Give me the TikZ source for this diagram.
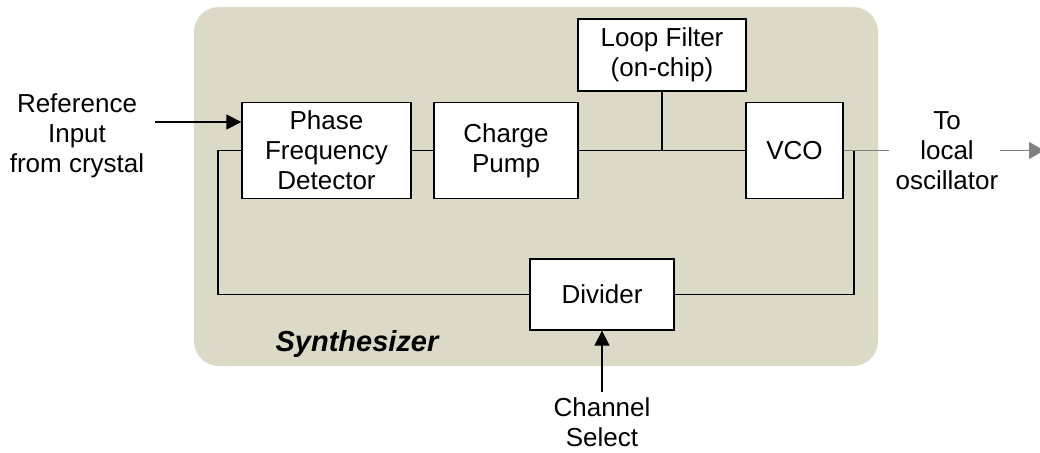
\documentclass[tikz,border=0pt]{standalone}
\usepackage{fontspec}
\setmainfont{Liberation Sans}
\usetikzlibrary{arrows.meta}
\definecolor{synthbg}{RGB}{220,218,199}
\definecolor{outgray}{RGB}{128,128,128}
\begin{document}
\begin{tikzpicture}[x=1pt, y=-1pt, line width=1.3pt,
  blk/.style={draw, fill=white, align=center, inner sep=0pt, font=\fontsize{26}{30}\selectfont},
  lbl/.style={align=center, inner sep=5pt, font=\fontsize{26}{30}\selectfont},
  arr/.style={-{Triangle[length=15pt,width=15pt]}}]
\useasboundingbox (0,0) rectangle (1040,452);
\fill[synthbg, rounded corners=25pt] (194,7) rectangle (878,366);
\node[blk, minimum width=169pt, minimum height=96pt] (pfd) at (326.5,150.5) {Phase\\Frequency\\Detector};
\node[blk, minimum width=144pt, minimum height=96pt] (cp) at (506,150.5) {Charge\\Pump};
\node[blk, minimum width=168pt, minimum height=72pt] (lf) at (662,55) {Loop Filter\\(on-chip)};
\node[blk, minimum width=97pt, minimum height=96pt] (vco) at (794.5,150.5) {VCO};
\node[blk, minimum width=144pt, minimum height=71pt] (div) at (602,294.5) {Divider};
\node[font=\fontsize{29}{34}\selectfont\bfseries\itshape, anchor=base] (synth) at (357,351) {Synthesizer};
\node[lbl] (ref) at (77,136) {Reference\\Input\\from crystal};
\node[lbl] (lo) at (947,151) {To\\local\\oscillator};
\node[lbl] (chsel) at (602,422) {Channel\\Select};
\coordinate (refin) at (155,122);
\coordinate (tap) at (lf.south |- cp.east);
\coordinate (out) at (889,150.5);
\coordinate (fbr) at (854,150.5);
\coordinate (fbl) at (218,150.5);
\coordinate (lotail) at (1000,150.5);
\coordinate (lotip) at (1044,150.5);
\draw (pfd.east) -- (cp.west);
\draw (cp.east) -- (vco.west);
\draw (lf.south) -- (tap);
\draw[outgray] (vco.east) -- (out);
\draw (fbr) |- (div.east);
\draw (div.west) -| (fbl) -- (pfd.west);
\draw[arr] (refin) -- (refin -| pfd.west);
\draw[arr] (chsel.north) -- (div.south);
\draw[outgray, -{Triangle[length=15pt,width=17pt]}] (lotail) -- (lotip);
\end{tikzpicture}
\end{document}
